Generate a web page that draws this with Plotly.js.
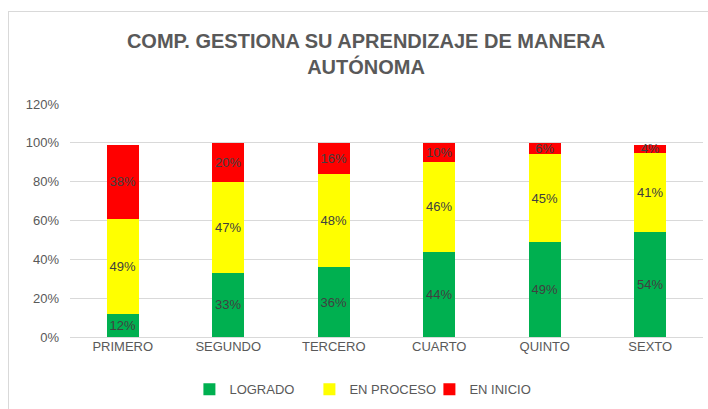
<!DOCTYPE html>
<html>
<head>
<meta charset="utf-8">
<script src="https://cdn.plot.ly/plotly-3.0.1.min.js"></script>
<style>
html,body{margin:0;padding:0;background:#fff;}
#wrap{position:relative;width:708px;height:409px;overflow:hidden;}
#chart{position:absolute;left:0;top:0;width:708px;height:409px;}
#frame{position:absolute;left:8px;top:11px;width:760px;height:460px;border-left:1px solid #d9d9d9;border-top:1px solid #d9d9d9;pointer-events:none;}
</style>
</head>
<body>
<div id="wrap"><div id="chart"></div><div id="frame"></div></div>
<script>
var categories = ["PRIMERO","SEGUNDO","TERCERO","CUARTO","QUINTO","SEXTO"];
var logrado    = [12, 33, 36, 44, 49, 54];
var enProceso  = [49, 47, 48, 46, 45, 41];
var enInicio   = [38, 20, 16, 10, 6, 4];
var seriesNames = ["LOGRADO","EN PROCESO","EN INICIO"];
var seriesColors = ["#00B050","#FFFF00","#FF0000"];
var yTickVals = [0,20,40,60,80,100,120];
var yTickText = ["0%","20%","40%","60%","80%","100%","120%"];

var font = "Liberation Sans, Arial, sans-serif";
function mk(vals, i){
  return {
    type:"bar", name:seriesNames[i], x:categories, y:vals,
    marker:{color:seriesColors[i], line:{width:0}},
    text:vals.map(function(v){return v+"%";}),
    textposition:"inside", insidetextanchor:"middle", textangle:0,
    textfont:{family:font,size:13,color:"#404040"},
    hoverinfo:"skip", cliponaxis:false
  };
}
var data = [mk(logrado,0), mk(enProceso,1), mk(enInicio,2)];
var layout = {
  width:708, height:409,
  margin:{l:70, r:5, t:104, b:68},
  paper_bgcolor:"#fff", plot_bgcolor:"#fff",
  barmode:"stack", bargap:0.7,
  uniformtext:{mode:"show", minsize:13},
  font:{family:font, color:"#595959", size:13},
  title:{text:"<b>COMP. GESTIONA SU APRENDIZAJE DE MANERA<br>AUTÓNOMA</b>",
    font:{family:font,size:20,color:"#595959"},
    x:0.517, xref:"container", xanchor:"center",
    y:0.882, yref:"container", yanchor:"top"},
  xaxis:{type:"category", showgrid:false, showline:false, zeroline:false,
    ticks:"", tickfont:{family:font,size:13,color:"#595959"}},
  yaxis:{range:[0,120], tickvals:yTickVals, ticktext:yTickText,
    showgrid:true, gridcolor:"#d9d9d9", gridwidth:1, zeroline:true, zerolinecolor:"#d9d9d9",
    showline:false, ticks:"", ticklabelstandoff:10,
    tickfont:{family:font,size:13,color:"#595959"}},
  showlegend:true,
  legend:{orientation:"h", x:0.473, xanchor:"center", y:-0.224, yanchor:"middle",
    entrywidth:75, entrywidthmode:"pixels", itemwidth:30,
    font:{family:font,size:13,color:"#595959"}, traceorder:"normal", itemclick:false}
};
Plotly.newPlot("chart", data, layout, {displayModeBar:false, staticPlot:true});
</script>
</body>
</html>
